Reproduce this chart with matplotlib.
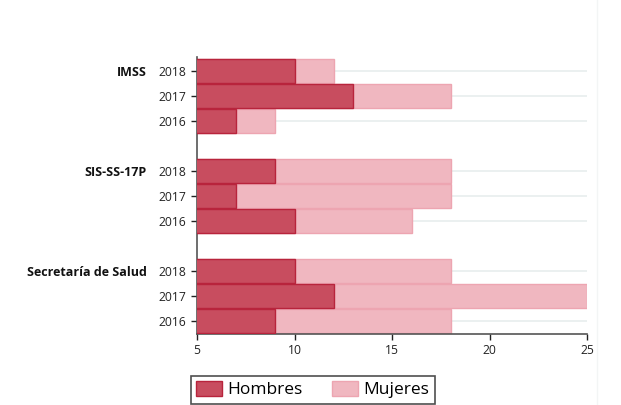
import numpy as np
import matplotlib.pyplot as plt
from matplotlib.patches import Patch
from matplotlib.lines import Line2D

# ── Datos ────────────────────────────────────────────────────────────────────
instituciones = ["IMSS", "SIS-SS-17P", "Secretaría de Salud"]
anios = ["2018", "2017", "2016"]

# valores por institución, en el orden 2018, 2017, 2016
hombres = {
    "IMSS": [10, 13, 7],
    "SIS-SS-17P": [9, 7, 10],
    "Secretaría de Salud": [10, 12, 9],
}
mujeres = {
    "IMSS": [12, 18, 9],
    "SIS-SS-17P": [18, 18, 16],
    "Secretaría de Salud": [18, 25, 18],
}

# ── Estilo ───────────────────────────────────────────────────────────────────
plt.rcParams["font.family"] = ["Open Sans", "DejaVu Sans"]
COL_H = "#c84d5f"
EDGE_H = "#b8243c"
COL_M = "#f0b7c0"
EDGE_M = "#eda5b1"
GRID = "#e8eded"
TXT = "#222222"

fig = plt.figure(figsize=(6.21, 4.05), dpi=100)
ax = fig.add_axes([197 / 621, 1 - 334 / 405, 390 / 621, 277 / 405])

# posiciones: cada grupo ocupa 3 filas y deja una fila vacía entre grupos
posiciones = []
etiquetas = []
for g, inst in enumerate(instituciones):
    base = (len(instituciones) - 1 - g) * 4
    ys = [base + 2, base + 1, base]
    ax.barh(ys, mujeres[inst], height=0.97, color=COL_M, edgecolor=EDGE_M,
            linewidth=1, zorder=2)
    ax.barh(ys, hombres[inst], height=0.97, color=COL_H, edgecolor=EDGE_H,
            linewidth=1, zorder=3)
    posiciones += ys
    etiquetas += anios
    ax.text(-0.129, base + 2, inst, transform=ax.get_yaxis_transform(),
            ha="right", va="center_baseline", fontsize=9, fontweight="bold",
            color="#111111")

ax.set_xlim(5, 25)
ax.set_ylim(-0.52, 10.55)
ax.set_yticks(posiciones)
ax.set_yticklabels(etiquetas)
ax.set_xticks([5, 10, 15, 20, 25])
ax.tick_params(axis="both", labelsize=8.7, colors=TXT, length=4, width=1)
ax.tick_params(axis="y", pad=4)

for y in posiciones:
    ax.axhline(y, color=GRID, lw=1.2, zorder=1)

for s in ["top", "right"]:
    ax.spines[s].set_visible(False)
for s in ["left", "bottom"]:
    ax.spines[s].set_color("#555555")
    ax.spines[s].set_linewidth(1.2)

# línea vertical tenue en el borde derecho
fig.add_artist(Line2D([597 / 621, 597 / 621], [0, 1], color="#f3f5f5", lw=1))

handles = [
    Patch(facecolor=COL_H, edgecolor=EDGE_H, label="Hombres"),
    Patch(facecolor=COL_M, edgecolor=EDGE_M, label="Mujeres"),
]
leg = fig.legend(handles=handles, loc="upper left", ncol=2,
                 bbox_to_anchor=(191 / 621, 1 - 376 / 405), fontsize=12.5,
                 frameon=True, fancybox=False, edgecolor="#222222",
                 handlelength=1.5, handleheight=0.9, columnspacing=1.7,
                 handletextpad=0.3, borderpad=0.3, borderaxespad=0)
leg.get_frame().set_linewidth(1.2)

fig.savefig("out.png", dpi=100)
